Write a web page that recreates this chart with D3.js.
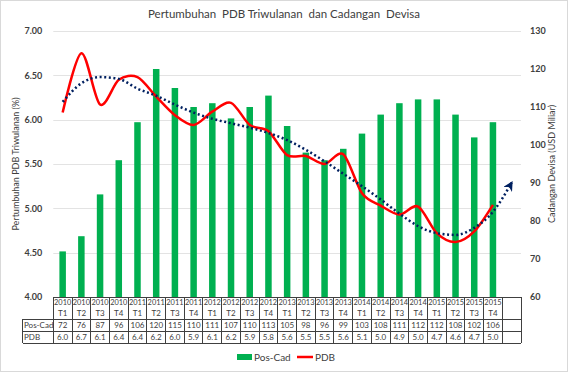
<!DOCTYPE html>
<html>
<head>
<meta charset="utf-8">
<script src="https://cdn.jsdelivr.net/npm/d3@7"></script>
<style>
  body { margin: 0; background: #fff; }
  text { font-family: Lato, "Open Sans", sans-serif; }
</style>
</head>
<body>
<div id="chart"></div>
<script>
// Data
const years = ["2010","2010","2010","2010","2011","2011","2011","2011","2012","2012","2012","2012",
               "2013","2013","2013","2013","2014","2014","2014","2014","2015","2015","2015","2015"];
const quarters = ["T1","T2","T3","T4","T1","T2","T3","T4","T1","T2","T3","T4",
                  "T1","T2","T3","T4","T1","T2","T3","T4","T1","T2","T3","T4"];
const posCad = [72, 76, 87, 96, 106, 120, 115, 110, 111, 107, 110, 113,
                105, 98, 96, 99, 103, 108, 111, 112, 112, 108, 102, 106];
const pdbLabel = ["6.0","6.7","6.1","6.4","6.4","6.2","6.0","5.9","6.1","6.2","5.9","5.8",
                  "5.6","5.5","5.5","5.6","5.1","5.0","4.9","5.0","4.7","4.6","4.7","5.0"];
// PDB line as drawn (left axis)
const pdb = [6.08, 6.75, 6.17, 6.45, 6.48, 6.26, 6.05, 5.94, 6.09, 6.19, 5.94, 5.87,
             5.60, 5.59, 5.50, 5.61, 5.17, 5.03, 4.93, 5.02, 4.72, 4.62, 4.74, 5.04];
// dotted trend line, incl. one period forecast
const trend = [6.20, 6.41, 6.48, 6.46, 6.35, 6.27, 6.17, 6.08, 6.01, 5.96, 5.91, 5.85,
               5.77, 5.66, 5.53, 5.39, 5.25, 5.10, 4.94, 4.80, 4.72, 4.70, 4.78, 4.96, 5.29];
const leftTicks = [4.0, 4.5, 5.0, 5.5, 6.0, 6.5, 7.0];
const rightTicks = [60, 70, 80, 90, 100, 110, 120, 130];

const W = 568, H = 372;
const plot = { left: 53.3, right: 521, top: 31, bottom: 297 };

const svg = d3.select("#chart")
    .append("svg")
    .attr("width", W)
    .attr("height", H);

svg.append("rect")
    .attr("x", 0.5).attr("y", 0.5)
    .attr("width", W - 1).attr("height", H - 1)
    .attr("fill", "#fff")
    .attr("stroke", "#d9d9d9");

// title
svg.append("text")
    .attr("x", 284)
    .attr("y", 18)
    .attr("text-anchor", "middle")
    .attr("font-size", "11.5px")
    .attr("fill", "#404040")
    .style("white-space", "pre")
    .text("Pertumbuhan  PDB Triwulanan  dan Cadangan  Devisa");

// scales (25 bands: last one empty for the trend forecast)
const x = d3.scaleBand()
    .domain(d3.range(25))
    .range([plot.left, plot.right]);

const yL = d3.scaleLinear().domain([4, 7]).range([plot.bottom, plot.top]);
const yR = d3.scaleLinear().domain([60, 130]).range([plot.bottom, plot.top]);

// gridlines
svg.append("g")
    .selectAll("line")
    .data(leftTicks)
    .enter()
    .append("line")
    .attr("x1", plot.left)
    .attr("x2", plot.right)
    .attr("y1", d => Math.round(yL(d)) + 0.5)
    .attr("y2", d => Math.round(yL(d)) + 0.5)
    .attr("stroke", "#e3e3e3")
    .attr("stroke-width", 1);

// left axis
const gL = svg.append("g")
    .attr("transform", `translate(${plot.left},0)`)
    .call(d3.axisLeft(yL).tickValues(leftTicks).tickFormat(d3.format(".2f")).tickSize(0).tickPadding(11));
gL.select(".domain").remove();
gL.selectAll("text").attr("font-size", "9px").attr("fill", "#404040").attr("font-weight", "bold")
    .attr("font-family", "Lato, sans-serif");

// right axis
const gR = svg.append("g")
    .attr("transform", `translate(${plot.right},0)`)
    .call(d3.axisRight(yR).tickValues(rightTicks).tickSize(0).tickPadding(9));
gR.select(".domain").remove();
gR.selectAll("text").attr("font-size", "9px").attr("fill", "#404040").attr("font-weight", "bold")
    .attr("font-family", "Lato, sans-serif");

// axis titles
svg.append("text")
    .attr("transform", `translate(19,${(plot.top + plot.bottom) / 2}) rotate(-90)`)
    .attr("text-anchor", "middle")
    .attr("font-size", "9px")
    .attr("fill", "#404040")
    .text("Pertumbuhan PDB Triwulanan (%)");

svg.append("text")
    .attr("transform", `translate(555,${(plot.top + plot.bottom) / 2}) rotate(-90)`)
    .attr("text-anchor", "middle")
    .attr("font-size", "9px")
    .attr("fill", "#404040")
    .text("Cadangan Devisa (USD Miliar)");

// bars (right axis)
const barW = 6.5;
svg.append("g")
    .selectAll("rect")
    .data(posCad)
    .enter()
    .append("rect")
    .attr("x", (d, i) => x(i) + x.bandwidth() / 2 - barW / 2)
    .attr("y", d => yR(d))
    .attr("width", barW)
    .attr("height", d => plot.bottom - yR(d))
    .attr("fill", "#00b050");

// PDB line
const line = d3.line()
    .x((d, i) => x(i) + x.bandwidth() / 2)
    .y(d => yL(d))
    .curve(d3.curveCardinal.tension(0.1));

svg.append("path")
    .datum(pdb)
    .attr("fill", "none")
    .attr("stroke", "#ff0000")
    .attr("stroke-width", 2.5)
    .attr("d", line);

// trend line with arrow
svg.append("defs")
    .append("marker")
    .attr("id", "arrow")
    .attr("viewBox", "0 0 10 10")
    .attr("refX", 8)
    .attr("refY", 5)
    .attr("markerWidth", 4)
    .attr("markerHeight", 4)
    .attr("orient", "auto")
    .append("path")
    .attr("d", "M0,0 L10,5 L0,10 L3,5 Z")
    .attr("fill", "#002060");

const trendLine = d3.line()
    .x((d, i) => x(i) + x.bandwidth() / 2)
    .y(d => yL(d))
    .curve(d3.curveMonotoneX);

svg.append("path")
    .datum(trend)
    .attr("fill", "none")
    .attr("stroke", "#002060")
    .attr("stroke-width", 2.5)
    .attr("stroke-dasharray", "2,2.6")
    .attr("marker-end", "url(#arrow)")
    .attr("d", trendLine);

// data table
const rowY = [plot.bottom, 319, 331, 343];
const labelLeft = 22.5;
const tbl = svg.append("g")
    .attr("stroke", "#404040")
    .attr("stroke-width", 1)
    .attr("shape-rendering", "crispEdges");

// horizontal lines
tbl.append("line")
    .attr("x1", plot.left).attr("x2", plot.right)
    .attr("y1", rowY[0]).attr("y2", rowY[0]);
rowY.slice(1).forEach(function (yy) {
    tbl.append("line")
        .attr("x1", labelLeft).attr("x2", plot.right)
        .attr("y1", yy).attr("y2", yy);
});
// vertical lines
d3.range(26).forEach(function (i) {
    const xx = i < 25 ? x(i) : plot.right;
    tbl.append("line")
        .attr("x1", xx).attr("x2", xx)
        .attr("y1", rowY[0]).attr("y2", rowY[3]);
});
tbl.append("line")
    .attr("x1", labelLeft).attr("x2", labelLeft)
    .attr("y1", rowY[1]).attr("y2", rowY[3]);

const cell = svg.append("g")
    .attr("font-size", "8px")
    .attr("fill", "#404040")
    .attr("text-anchor", "middle");

cell.selectAll(".yr")
    .data(years)
    .enter()
    .append("text")
    .attr("x", (d, i) => x(i) + x.bandwidth() / 2)
    .attr("y", 305)
    .attr("font-size", "7.4px")
    .text(d => d);

cell.selectAll(".qt")
    .data(quarters)
    .enter()
    .append("text")
    .attr("x", (d, i) => x(i) + x.bandwidth() / 2)
    .attr("y", 316)
    .text(d => d);

cell.selectAll(".pc")
    .data(posCad)
    .enter()
    .append("text")
    .attr("x", (d, i) => x(i) + x.bandwidth() / 2)
    .attr("y", 328)
    .text(d => d);

cell.selectAll(".pd")
    .data(pdbLabel)
    .enter()
    .append("text")
    .attr("x", (d, i) => x(i) + x.bandwidth() / 2)
    .attr("y", 340)
    .text(d => d);

svg.append("text")
    .attr("x", 24).attr("y", 328)
    .attr("font-size", "8px").attr("fill", "#404040")
    .text("Pos-Cad");
svg.append("text")
    .attr("x", 24).attr("y", 340)
    .attr("font-size", "8px").attr("fill", "#404040")
    .text("PDB");

// legend
const leg = svg.append("g");
leg.append("rect")
    .attr("x", 237).attr("y", 354)
    .attr("width", 15).attr("height", 6)
    .attr("fill", "#00b050");
leg.append("text")
    .attr("x", 254).attr("y", 360.5)
    .attr("font-size", "10px").attr("fill", "#404040")
    .text("Pos-Cad");
leg.append("line")
    .attr("x1", 297).attr("x2", 313)
    .attr("y1", 357).attr("y2", 357)
    .attr("stroke", "#ff0000").attr("stroke-width", 2.5);
leg.append("text")
    .attr("x", 315).attr("y", 360.5)
    .attr("font-size", "10px").attr("fill", "#404040")
    .text("PDB");
</script>
</body>
</html>
